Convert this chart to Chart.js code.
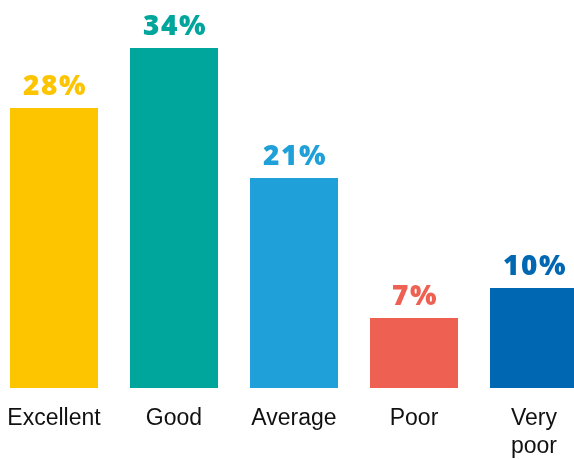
<!DOCTYPE html>
<html>
<head>
<meta charset="utf-8">
<script src="https://cdn.jsdelivr.net/npm/chart.js@4/dist/chart.umd.min.js"></script>
<style>
  html, body { margin: 0; padding: 0; background: #fff; overflow: hidden; }
  #wrap { position: absolute; left: -6px; top: 0; width: 600px; height: 459px; }
</style>
</head>
<body>
<div id="wrap"><canvas id="c"></canvas></div>
<script>
// Survey rating distribution
const categories = [['Excellent'], ['Good'], ['Average'], ['Poor'], ['Very', 'poor']];
const shares = [28, 34, 21, 7, 10];
const barColors = ['#FDC400', '#00A59B', '#1FA0D8', '#EE6052', '#0068B3'];

// Writes each bar's value in its own colour just above the bar
const valueLabels = {
  id: 'valueLabels',
  afterDatasetsDraw(chart) {
    const ctx = chart.ctx;
    const meta = chart.getDatasetMeta(0);
    ctx.save();
    ctx.font = '800 28px "Open Sans", sans-serif';
    ctx.letterSpacing = '1.5px';
    ctx.textAlign = 'center';
    ctx.textBaseline = 'alphabetic';
    meta.data.forEach((bar, i) => {
      ctx.fillStyle = barColors[i];
      ctx.fillText(shares[i] + '%', bar.x + 1, bar.y - 13);
    });
    ctx.restore();
  }
};

new Chart(document.getElementById('c'), {
  type: 'bar',
  data: {
    labels: categories,
    datasets: [{
      data: shares,
      backgroundColor: barColors,
      borderWidth: 0,
      categoryPercentage: 1,
      barPercentage: 88 / 120
    }]
  },
  options: {
    responsive: true,
    maintainAspectRatio: false,
    animation: false,
    layout: { padding: 0 },
    plugins: { legend: { display: false }, tooltip: { enabled: false } },
    scales: {
      x: {
        grid: { display: false, drawTicks: false },
        border: { display: false },
        ticks: {
          color: '#111',
          font: { family: 'Arial, "Liberation Sans", sans-serif', size: 23 },
          padding: 17,
          maxRotation: 0,
          autoSkip: false
        },
        afterFit(scale) {
          scale.height = 71;
          scale.paddingLeft = 0;
          scale.paddingRight = 0;
        }
      },
      y: {
        display: false,
        min: 0,
        max: 38.8
      }
    }
  },
  plugins: [valueLabels]
});
</script>
</body>
</html>
